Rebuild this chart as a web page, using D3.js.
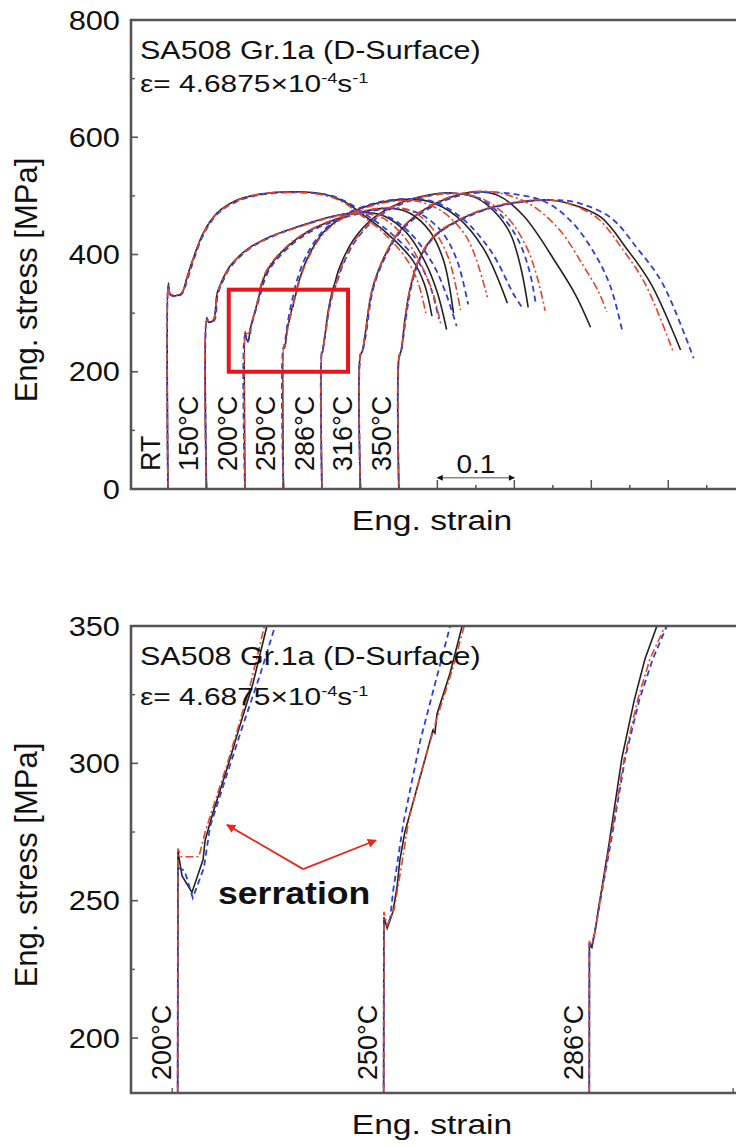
<!DOCTYPE html>
<html>
<head>
<meta charset="utf-8">
<script src="https://cdn.jsdelivr.net/npm/d3@7"></script>
<style>
  body { margin: 0; background: #fff; }
  svg { display: block; font-family: "Liberation Sans", Arial, sans-serif; }
</style>
</head>
<body>
<div id="grafica"></div>
<script>
// temperaturas y desplazamiento de cada curva en deformación
var temps = ["RT", "150°C", "200°C", "250°C", "286°C", "316°C", "350°C"];
var offsets = [0, 0.05, 0.10, 0.15, 0.20, 0.25, 0.30];

// curvas [deformación, tensión MPa] : K = continua, R = raya-punto, B = discontinua
var rtK = [[0,0],[0.0005,351],[0.003,332],[0.012,330],[0.018,334],[0.025,362],[0.032,390],[0.046,437],[0.064,471],[0.09,493],[0.12,503],[0.163,507],[0.206,502],[0.232,488],[0.25,471],[0.284,437],[0.318,390],[0.333,350],[0.343,295]];
var rtR = [[0,0],[0.0005,348],[0.003,333],[0.012,331],[0.018,335],[0.025,361],[0.032,389],[0.046,436],[0.064,470],[0.09,492],[0.12,503],[0.16,506],[0.2,502],[0.228,489],[0.246,472],[0.28,437],[0.31,392],[0.325,352],[0.335,300]];
var rtB = [[0,0],[0.0005,345],[0.003,331],[0.012,329],[0.018,333],[0.026,360],[0.033,389],[0.047,436],[0.065,470],[0.092,492],[0.122,502],[0.165,506],[0.21,501],[0.236,487],[0.255,470],[0.29,436],[0.325,388],[0.341,345],[0.352,290]];

var t150K = [[0,0],[0.0005,292],[0.003,285],[0.009,288],[0.014,334],[0.022,360],[0.03,379],[0.052,408],[0.082,430],[0.134,454],[0.17,467],[0.2,472],[0.23,466],[0.26,437],[0.285,385],[0.3,335],[0.312,272]];
var t150R = [[0,0],[0.0005,290],[0.003,286],[0.009,289],[0.014,333],[0.022,359],[0.03,378],[0.052,407],[0.082,429],[0.134,453],[0.17,466],[0.2,470],[0.228,463],[0.255,433],[0.278,385],[0.294,335],[0.305,278]];
var t150B = [[0,0],[0.0005,291],[0.003,284],[0.01,287],[0.015,333],[0.023,359],[0.031,378],[0.053,407],[0.084,430],[0.136,454],[0.173,467],[0.205,471],[0.238,463],[0.268,432],[0.295,382],[0.311,334],[0.325,278]];

var t200K = [[0,0],[0.0002,268],[0.0012,259],[0.0036,253],[0.0063,265],[0.0068,272],[0.0087,282],[0.0121,298],[0.0153,314],[0.0184,329],[0.0218,350],[0.031,377],[0.053,411],[0.083,440],[0.12,461],[0.16,475],[0.19,479],[0.215,470],[0.24,440],[0.258,390],[0.271,300]];
var t200R = [[0,0],[0.0002,269],[0.001,266],[0.0053,266],[0.0068,275],[0.0085,283],[0.012,299],[0.015,314],[0.018,330],[0.0212,350],[0.03,377],[0.052,411],[0.082,440],[0.12,462],[0.16,476],[0.195,480],[0.22,472],[0.245,442],[0.265,392],[0.28,305]];
var t200B = [[0,0],[0.0002,262],[0.0018,261],[0.0038,251],[0.0065,262],[0.008,277],[0.0121,296],[0.016,314],[0.0201,332],[0.0238,350],[0.033,377],[0.055,410],[0.085,439],[0.123,460],[0.163,474],[0.2,478],[0.228,469],[0.255,440],[0.275,392],[0.29,315]];

var t250K = [[0,0],[0.0002,244],[0.001,240],[0.0024,246],[0.0034,255],[0.0041,265],[0.0053,275],[0.009,295],[0.0121,312],[0.0126,311],[0.0131,318],[0.0163,333],[0.0192,350],[0.031,393],[0.052,438],[0.083,468],[0.12,487],[0.16,494],[0.19,490],[0.225,465],[0.26,410],[0.291,317]];
var t250R = [[0,0],[0.0002,246],[0.001,241],[0.0027,247],[0.0044,262],[0.0063,280],[0.0095,298],[0.013,316],[0.0168,334],[0.0197,350],[0.032,393],[0.053,437],[0.084,467],[0.12,485],[0.155,492],[0.18,489],[0.21,470],[0.24,425],[0.265,327]];
var t250B = [[0,0],[0.0002,242],[0.0017,243],[0.0024,253],[0.0036,265],[0.0049,278],[0.009,308],[0.0121,326],[0.0163,350],[0.028,393],[0.05,438],[0.081,469],[0.12,488],[0.16,495],[0.195,490],[0.232,462],[0.27,405],[0.3,330],[0.31,310]];

var t286K = [[0,0],[0.0001,234],[0.0007,233],[0.0015,239],[0.0024,248],[0.0034,257],[0.0049,271],[0.008,302],[0.011,323],[0.0136,338],[0.0165,350],[0.023,378],[0.04,423],[0.066,461],[0.1,487],[0.14,502],[0.17,505],[0.2,497],[0.225,472],[0.245,435],[0.258,380],[0.268,310]];
var t286R = [[0,0],[0.0001,235],[0.0008,234],[0.0016,240],[0.0035,257],[0.0052,272],[0.0086,302],[0.0118,323],[0.0148,338],[0.0185,350],[0.025,378],[0.042,423],[0.068,461],[0.102,487],[0.142,501],[0.175,504],[0.21,494],[0.24,465],[0.265,415],[0.28,360],[0.29,304]];
var t286B = [[0,0],[0.0001,234],[0.0008,234],[0.0017,241],[0.0037,258],[0.0054,272],[0.0088,302],[0.0122,323],[0.0155,338],[0.0189,350],[0.026,378],[0.043,422],[0.069,460],[0.103,486],[0.143,501],[0.173,504],[0.205,495],[0.232,468],[0.255,425],[0.27,370],[0.278,315]];

var t316K = [[0,0],[0.0002,230],[0.002,233],[0.006,262],[0.012,318],[0.017,348],[0.03,393],[0.05,438],[0.08,474],[0.12,499],[0.152,507],[0.18,500],[0.212,466],[0.256,382],[0.28,330],[0.299,276]];
var t316R = [[0,0],[0.0002,231],[0.002,234],[0.006,263],[0.012,319],[0.017,349],[0.03,394],[0.05,439],[0.08,475],[0.12,500],[0.155,508],[0.19,502],[0.225,482],[0.26,440],[0.29,380],[0.31,335],[0.32,302]];
var t316B = [[0,0],[0.0002,229],[0.002,232],[0.007,262],[0.013,318],[0.018,348],[0.031,392],[0.051,437],[0.082,473],[0.122,498],[0.158,506],[0.2,503],[0.24,490],[0.275,455],[0.305,400],[0.325,345],[0.34,271]];

var t350K = [[0,0],[0.0002,225],[0.003,236],[0.008,290],[0.014,338],[0.025,388],[0.045,430],[0.08,460],[0.12,480],[0.16,490],[0.195,493],[0.219,488],[0.262,464],[0.297,408],[0.327,351],[0.366,237]];
var t350R = [[0,0],[0.0002,226],[0.003,237],[0.008,291],[0.014,339],[0.025,389],[0.045,431],[0.08,461],[0.12,481],[0.16,491],[0.195,493],[0.22,487],[0.258,462],[0.29,410],[0.32,350],[0.357,232]];
var t350B = [[0,0],[0.0002,224],[0.003,235],[0.009,290],[0.015,338],[0.026,388],[0.046,430],[0.082,460],[0.122,480],[0.163,490],[0.2,493],[0.23,489],[0.275,463],[0.31,410],[0.342,352],[0.383,223]];

// ticks del eje y
var yTicksTop = [0, 200, 400, 600, 800];
var yTicksBot = [200, 250, 300, 350];
// zona ampliada (recuadro rojo) y barra de escala
var boxStrain = [0.079, 0.234], boxStress = [200, 340];
var scaleBar = [0.35, 0.45];

// agrupamos las curvas
var sets = [[rtK, rtR, rtB], [t150K, t150R, t150B], [t200K, t200R, t200B], [t250K, t250R, t250B],
            [t286K, t286R, t286B], [t316K, t316R, t316B], [t350K, t350R, t350B]];
// orden de dibujo: continua, discontinua, raya-punto
var styles = [
  { idx: 0, stroke: "#222222", dash: null, w: 1.6 },
  { idx: 2, stroke: "#2f3fd8", dash: "6,4", w: 1.8 },
  { idx: 1, stroke: "#e4442a", dash: "8,3,2,3", w: 1.6 }
];

var W = 736, H = 1147;
var svg = d3.select("#grafica").append("svg").attr("width", W).attr("height", H);

var defs = svg.append("defs");
defs.append("marker").attr("id", "redhead").attr("viewBox", "0 0 10 10")
  .attr("refX", 9).attr("refY", 5).attr("markerWidth", 5).attr("markerHeight", 5)
  .attr("markerUnits", "strokeWidth").attr("orient", "auto")
  .append("path").attr("d", "M0,0 L10,5 L0,10 z").attr("fill", "#e8261c");
defs.append("marker").attr("id", "blackhead").attr("viewBox", "0 0 10 10")
  .attr("refX", 9).attr("refY", 5).attr("markerWidth", 7).attr("markerHeight", 6)
  .attr("markerUnits", "userSpaceOnUse").attr("orient", "auto-start-reverse")
  .append("path").attr("d", "M0,0 L10,5 L0,10 z").attr("fill", "#111");

// texto con estiramiento horizontal
function txt(g, x, y, s, size, sx, anchor, rot, weight) {
  return g.append("text")
    .attr("transform", "translate(" + x + "," + y + ") scale(" + sx + ",1)" + (rot ? " rotate(-90)" : ""))
    .attr("text-anchor", anchor || "start")
    .style("font-size", size + "px")
    .style("font-weight", weight || "normal")
    .attr("fill", "#111")
    .text(s);
}

function panel(id, x, y, yTicks, yMinor, top, bottom, labelY, curve) {
  var g = svg.append("g");
  defs.append("clipPath").attr("id", id)
    .append("rect").attr("x", x.range()[0]).attr("y", y.range()[1])
    .attr("width", x.range()[1] - x.range()[0] + 2).attr("height", y.range()[0] - y.range()[1]);

  var line = function (off) {
    return d3.line()
      .x(function (d) { return x(d[0] + off); })
      .y(function (d) { return y(d[1]); })
      .curve(curve);
  };

  var cg = g.append("g").attr("clip-path", "url(#" + id + ")");
  styles.forEach(function (st) {
    sets.forEach(function (s, i) {
      cg.append("path")
        .attr("d", line(offsets[i])(s[st.idx]))
        .attr("fill", "none")
        .attr("stroke", st.stroke)
        .attr("stroke-width", st.w)
        .attr("stroke-dasharray", st.dash);
    });
  });

  // marco
  var x0 = x.range()[0], x1 = x.range()[1] + 4, y0 = y.range()[1], y1 = y.range()[0];
  g.append("path")
    .attr("d", "M" + x1 + "," + y0 + "H" + x0 + "V" + y1 + "H" + x1)
    .attr("fill", "none").attr("stroke", "#555").attr("stroke-width", 2.6);

  // ticks y
  yTicks.forEach(function (v) {
    g.append("line").attr("x1", x0).attr("x2", x0 + 7).attr("y1", y(v)).attr("y2", y(v))
      .attr("stroke", "#555").attr("stroke-width", 1.6);
    txt(g, 120, y(v) + 9.5, v, 28, 1.1, "end");
  });
  yMinor.forEach(function (v) {
    g.append("line").attr("x1", x0).attr("x2", x0 + 4).attr("y1", y(v)).attr("y2", y(v))
      .attr("stroke", "#555").attr("stroke-width", 1.4);
  });

  txt(g, 37, labelY, "Eng. stress [MPa]", 31, 1.0, "middle", true);
  txt(g, 432, y1 + 41, "Eng. strain", 28, 1.2, "middle");

  txt(g, 140, y0 + top, "SA508 Gr.1a (D-Surface)", 25, 1.22);
  var e = txt(g, 140, y0 + bottom, "", 23, 1.3);
  e.append("tspan").text("ε= 4.6875×10");
  e.append("tspan").attr("dy", -9).style("font-size", "14px").text("-4");
  e.append("tspan").attr("dy", 9).text("s");
  e.append("tspan").attr("dy", -9).style("font-size", "14px").text("-1");
  return g;
}

// ===== Gráfica superior =====
var xTop = d3.scaleLinear().domain([-0.048, 0.738]).range([131, 736]);
var yTop = d3.scaleLinear().domain([0, 800]).range([489, 20]);
var gTop = panel("clipTop", xTop, yTop, yTicksTop, [100, 300, 500, 700], 39, 72, 280,
  d3.curveCatmullRom.alpha(0.5));

d3.range(0, 15).forEach(function (k) {
  var len = k % 2 ? 9 : 4;
  gTop.append("line").attr("x1", xTop(k * 0.05)).attr("x2", xTop(k * 0.05))
    .attr("y1", 489).attr("y2", 489 - len).attr("stroke", "#555").attr("stroke-width", 1.5);
});

temps.forEach(function (t, i) {
  txt(gTop, xTop(offsets[i]) - 8, 471, t, 27, 1.05, "start", true);
});

gTop.append("rect")
  .attr("x", xTop(boxStrain[0])).attr("y", yTop(boxStress[1]))
  .attr("width", xTop(boxStrain[1]) - xTop(boxStrain[0]))
  .attr("height", yTop(boxStress[0]) - yTop(boxStress[1]))
  .attr("fill", "none").attr("stroke", "#e8141c").attr("stroke-width", 4);

gTop.append("line")
  .attr("x1", xTop(scaleBar[0])).attr("x2", xTop(scaleBar[1]))
  .attr("y1", yTop(19)).attr("y2", yTop(19))
  .attr("stroke", "#888").attr("stroke-width", 1.5)
  .attr("marker-start", "url(#blackhead)").attr("marker-end", "url(#blackhead)");
txt(gTop, xTop((scaleBar[0] + scaleBar[1]) / 2), yTop(19) - 5, "0.1", 25, 1.12, "middle");

// ===== Gráfica inferior =====
var xBot = d3.scaleLinear().domain([0.0888, 0.2357]).range([131, 736]);
var yBot = d3.scaleLinear().domain([180, 350]).range([1093, 626]);
var gBot = panel("clipBot", xBot, yBot, yTicksBot, [225, 275, 325], 39, 79, 865, d3.curveLinear);

[0.0988, 0.235].forEach(function (v) {
  gBot.append("line").attr("x1", xBot(v)).attr("x2", xBot(v))
    .attr("y1", 1093).attr("y2", 1088).attr("stroke", "#555").attr("stroke-width", 1.4);
});

[2, 3, 4].forEach(function (i) {
  txt(gBot, xBot(offsets[i]) - 6, 1080, temps[i], 27, 1.05, "start", true);
});

// anotación "serration"
var vtx = [0.1306, 261.5];
[[0.1121, 277.6], [0.1483, 272]].forEach(function (p) {
  gBot.append("line")
    .attr("x1", xBot(vtx[0])).attr("y1", yBot(vtx[1]))
    .attr("x2", xBot(p[0])).attr("y2", yBot(p[1]))
    .attr("stroke", "#e8261c").attr("stroke-width", 1.8)
    .attr("marker-end", "url(#redhead)");
});
txt(gBot, xBot(0.1099), yBot(248.8), "serration", 31, 1.15, "start", false, "bold");
</script>
</body>
</html>
